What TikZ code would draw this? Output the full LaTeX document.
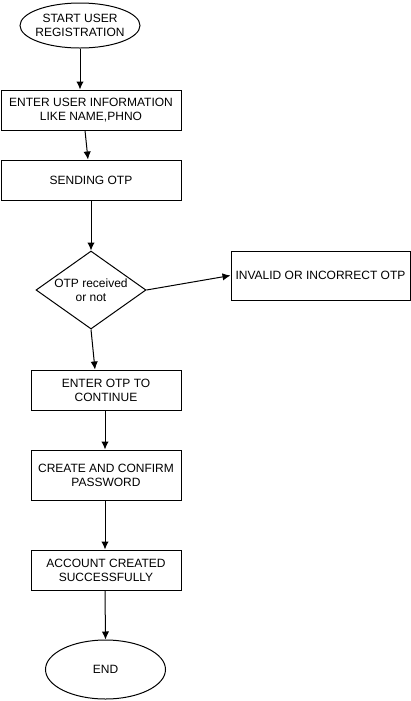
\documentclass[tikz,border=0pt]{standalone}
\usepackage{fontspec}
\setmainfont{Liberation Sans}
\usetikzlibrary{shapes.geometric,arrows.meta}

\tikzset{
  procbox/.style={draw, rectangle, line width=0.75pt, inner sep=0pt, align=center,
    font=\fontsize{9}{10.5}\selectfont},
  termnode/.style={draw, ellipse, line width=0.75pt, inner sep=0pt, align=center,
    font=\fontsize{9}{10.5}\selectfont},
  decidenode/.style={draw, diamond, aspect=1.41, line width=0.75pt, inner sep=0pt,
    align=center, font=\fontsize{9}{10.5}\selectfont},
  flow/.style={-{Latex[length=6pt,width=5.5pt]}, line width=0.75pt}
}

\begin{document}
\begin{tikzpicture}[x=0.75pt, y=-0.75pt]
    \useasboundingbox (0,0) rectangle (411,701);

    % nodes
    \node[termnode, minimum width=90pt, minimum height=33.75pt, inner xsep=-4pt] (start) at (80,25.5)
        {START USER\\REGISTRATION};
    \node[procbox, minimum width=135pt, minimum height=30pt] (info) at (91,110)
        {ENTER USER INFORMATION\\LIKE NAME,PHNO};
    \node[procbox, minimum width=135pt, minimum height=30pt] (sendotp) at (91,180)
        {SENDING OTP};
    \node[decidenode, minimum width=82.5pt, minimum height=58.5pt] (check) at (91,290)
        {OTP received\\or not};
    \node[procbox, minimum width=134.25pt, minimum height=36.75pt] (invalid) at (320.5,275.5)
        {INVALID OR INCORRECT OTP};
    \node[procbox, minimum width=112.5pt, minimum height=30pt] (enterotp) at (106,390)
        {ENTER OTP TO\\CONTINUE};
    \node[procbox, minimum width=112.5pt, minimum height=37.5pt] (password) at (106,475)
        {CREATE AND CONFIRM\\PASSWORD};
    \node[procbox, minimum width=112.5pt, minimum height=30pt] (created) at (106,570)
        {ACCOUNT CREATED\\SUCCESSFULLY};
    \node[termnode, minimum width=90pt, minimum height=44.25pt] (finish) at (105.5,669.5)
        {END};

    % connectors
    \draw[flow] (start.south) -- ([xshift=-8.25pt]info.north);
    \draw[flow] ([xshift=-4.5pt]info.south) -- ([xshift=-2.25pt]sendotp.north);
    \draw[flow] (sendotp.south) -- (check.north);
    \draw[flow] (check.east) -- (invalid.west);
    \draw[flow] (check.south) -- ([xshift=-8.25pt]enterotp.north);
    \draw[flow] ([xshift=-0.75pt]enterotp.south) -- ([xshift=-0.75pt]password.north);
    \draw[flow] ([xshift=-0.75pt]password.south) -- ([xshift=-0.75pt]created.north);
    \draw[flow] ([xshift=-0.75pt]created.south) -- (finish.north);
\end{tikzpicture}
\end{document}
